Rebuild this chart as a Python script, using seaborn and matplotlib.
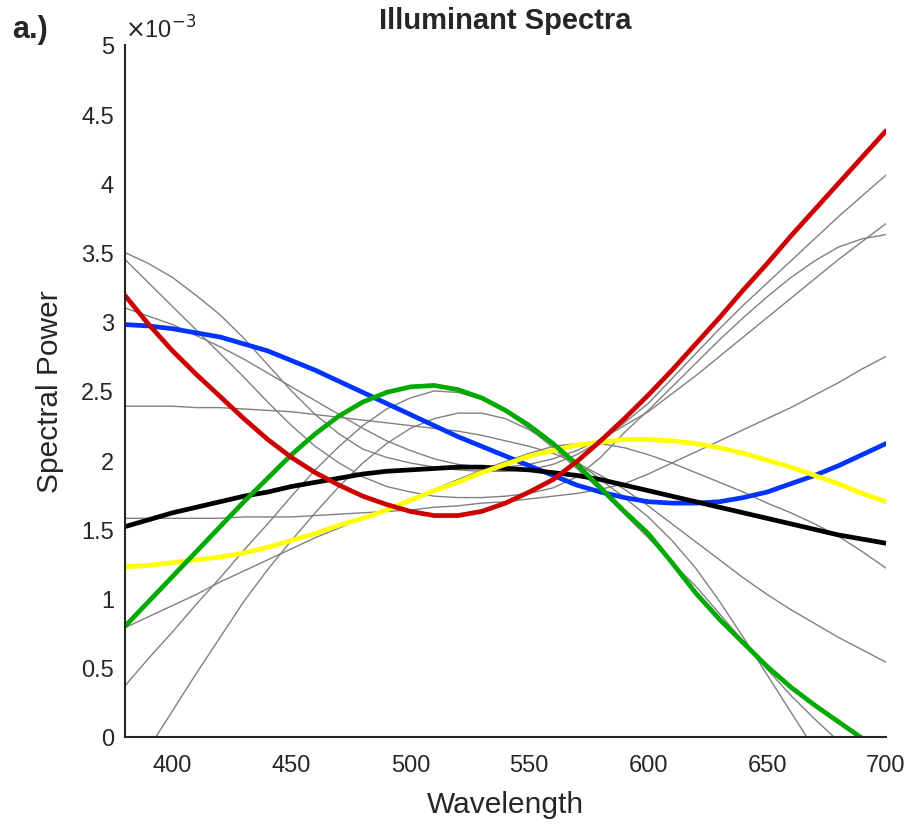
import numpy as np
import pandas as pd
import matplotlib
matplotlib.use("Agg")
import matplotlib.pyplot as plt
import seaborn as sns
from matplotlib.ticker import FuncFormatter, MultipleLocator

# ---- data (spectral power, units of 1e-3), wavelengths 380..700 nm every 10 nm ----
wavelength = list(range(380, 701, 10))

red    = [3.19, 2.98, 2.79, 2.62, 2.46, 2.30, 2.15, 2.02, 1.91, 1.82, 1.74, 1.68, 1.63, 1.60, 1.60, 1.63,
          1.69, 1.77, 1.86, 1.99, 2.14, 2.30, 2.47, 2.65, 2.84, 3.03, 3.23, 3.42, 3.62, 3.81, 4.00, 4.19, 4.38]
blue   = [2.98, 2.97, 2.95, 2.92, 2.89, 2.84, 2.79, 2.72, 2.65, 2.57, 2.49, 2.41, 2.33, 2.25, 2.17, 2.10,
          2.03, 1.96, 1.89, 1.82, 1.77, 1.73, 1.70, 1.69, 1.69, 1.70, 1.73, 1.77, 1.83, 1.89, 1.96, 2.04, 2.12]
green  = [0.80, 0.98, 1.16, 1.34, 1.52, 1.70, 1.87, 2.04, 2.19, 2.32, 2.42, 2.49, 2.53, 2.54, 2.51, 2.45,
          2.36, 2.25, 2.12, 1.97, 1.80, 1.63, 1.47, 1.26, 1.04, 0.85, 0.68, 0.51, 0.36, 0.23, 0.11, -0.01, -0.12]
black  = [1.52, 1.57, 1.62, 1.66, 1.70, 1.74, 1.77, 1.81, 1.84, 1.87, 1.90, 1.92, 1.93, 1.94, 1.95, 1.95,
          1.94, 1.93, 1.91, 1.89, 1.86, 1.82, 1.78, 1.74, 1.70, 1.66, 1.62, 1.58, 1.54, 1.50, 1.46, 1.43, 1.40]
yellow = [1.23, 1.24, 1.26, 1.28, 1.30, 1.33, 1.37, 1.42, 1.47, 1.53, 1.58, 1.64, 1.71, 1.78, 1.84, 1.91,
          1.97, 2.03, 2.07, 2.11, 2.13, 2.15, 2.15, 2.14, 2.12, 2.09, 2.05, 2.00, 1.95, 1.89, 1.83, 1.76, 1.70]

gray_a1 = [3.50, 3.42, 3.32, 3.19, 3.05, 2.88, 2.69, 2.50, 2.33, 2.19, 2.08, 2.02, 1.98, 1.95, 1.93, 1.92,
           1.92, 1.93, 1.97, 2.04, 2.14, 2.27, 2.41, 2.59, 2.77, 2.95, 3.12, 3.28, 3.44, 3.60, 3.76, 3.91, 4.06]
gray_a2 = [3.45, 3.28, 3.11, 2.94, 2.77, 2.60, 2.42, 2.25, 2.10, 1.98, 1.88, 1.81, 1.77, 1.74, 1.73, 1.73,
           1.74, 1.76, 1.80, 1.88, 2.02, 2.20, 2.36, 2.53, 2.70, 2.87, 3.03, 3.18, 3.32, 3.44, 3.54, 3.60, 3.63]
gray_a3 = [3.10, 3.04, 2.98, 2.90, 2.82, 2.73, 2.63, 2.53, 2.43, 2.33, 2.23, 2.14, 2.07, 2.01, 1.97, 1.95,
           1.95, 1.97, 2.01, 2.07, 2.15, 2.25, 2.35, 2.48, 2.61, 2.75, 2.89, 3.03, 3.17, 3.31, 3.45, 3.58, 3.71]
gray_b1 = [0.79, 0.87, 0.95, 1.03, 1.12, 1.20, 1.28, 1.36, 1.44, 1.51, 1.58, 1.65, 1.72, 1.79, 1.86, 1.93,
           1.99, 2.05, 2.10, 2.12, 2.12, 2.09, 2.04, 1.98, 1.91, 1.84, 1.77, 1.69, 1.62, 1.54, 1.45, 1.34, 1.22]
gray_b2 = [0.37, 0.57, 0.76, 0.96, 1.15, 1.35, 1.54, 1.74, 1.93, 2.10, 2.25, 2.37, 2.45, 2.50, 2.49, 2.44,
           2.35, 2.23, 2.09, 1.94, 1.78, 1.61, 1.44, 1.26, 1.09, 0.89, 0.69, 0.49, 0.30, 0.13, -0.03, -0.18, -0.32]
gray_b3 = [-0.35, -0.08, 0.19, 0.46, 0.72, 0.98, 1.21, 1.42, 1.62, 1.81, 1.98, 2.12, 2.23, 2.30, 2.34, 2.34,
           2.30, 2.22, 2.11, 1.99, 1.86, 1.73, 1.59, 1.42, 1.22, 0.98, 0.72, 0.45, 0.18, -0.09, -0.36, -0.62, -0.88]
gray_c1 = [2.39, 2.39, 2.39, 2.38, 2.38, 2.37, 2.36, 2.35, 2.33, 2.31, 2.29, 2.27, 2.25, 2.23, 2.21, 2.18,
           2.14, 2.10, 2.05, 1.98, 1.89, 1.79, 1.67, 1.54, 1.41, 1.28, 1.15, 1.03, 0.92, 0.82, 0.72, 0.63, 0.54]
gray_c2 = [1.58, 1.58, 1.58, 1.58, 1.58, 1.59, 1.59, 1.59, 1.60, 1.61, 1.62, 1.63, 1.64, 1.66, 1.67, 1.69,
           1.70, 1.72, 1.74, 1.76, 1.79, 1.83, 1.90, 1.98, 2.06, 2.14, 2.22, 2.30, 2.38, 2.47, 2.56, 2.66, 2.75]

gray_series = {"a1": gray_a1, "a2": gray_a2, "a3": gray_a3, "b1": gray_b1,
               "b2": gray_b2, "b3": gray_b3, "c1": gray_c1, "c2": gray_c2}
main_series = [("blue", blue, "#0033FF"), ("black", black, "#000000"),
               ("yellow", yellow, "#FFFF00"), ("green", green, "#00AA00"),
               ("red", red, "#CC0000")]

gray_df = pd.concat([pd.DataFrame({"wl": wavelength, "val": v, "curve": k})
                     for k, v in gray_series.items()], ignore_index=True)

sns.set_theme(style="white")
plt.rcParams["font.family"] = ["Liberation Sans", "DejaVu Sans"]

fig = plt.figure(figsize=(9.12, 8.28), dpi=100)
ax = fig.add_axes([125/912, 1 - 738/828, (886-125)/912, (738-46)/828])

sns.lineplot(data=gray_df, x="wl", y="val", units="curve", estimator=None,
             color="#808080", linewidth=1.0, ax=ax, legend=False)
for name, vals, col in main_series:
    df = pd.DataFrame({"wl": wavelength, "val": vals})
    sns.lineplot(data=df, x="wl", y="val", color=col, linewidth=3.4, ax=ax,
                 legend=False)

ax.set_xlim(380, 700)
ax.set_ylim(0, 5)
ax.xaxis.set_major_locator(MultipleLocator(50))
ax.yaxis.set_major_locator(MultipleLocator(0.5))
ax.yaxis.set_major_formatter(FuncFormatter(lambda v, p: f"{v:g}"))

for s in ["top", "right"]:
    ax.spines[s].set_visible(False)
for s in ["left", "bottom"]:
    ax.spines[s].set_color("#262626")
    ax.spines[s].set_linewidth(1.5)
ax.tick_params(axis="both", direction="in", length=7, width=1.5, color="#262626",
               labelsize=17, labelcolor="#262626", pad=8)
ax.tick_params(axis="x", pad=12)

ax.set_xlabel("Wavelength", fontsize=21.5, color="#262626", labelpad=10)
ax.set_ylabel("Spectral Power", fontsize=21.5, color="#262626", labelpad=12)
ax.set_title("Illuminant Spectra", fontsize=21, fontweight="bold", pad=12)

ax.text(0.0, 1.003, r"$\times$10$^{-3}$", transform=ax.transAxes, fontsize=17,
        color="#262626", ha="left", va="bottom")
fig.text(12/912, 1 - 30/828, "a.)", fontsize=22, fontweight="bold", ha="left", va="center")

fig.savefig("out.png", dpi=100)
